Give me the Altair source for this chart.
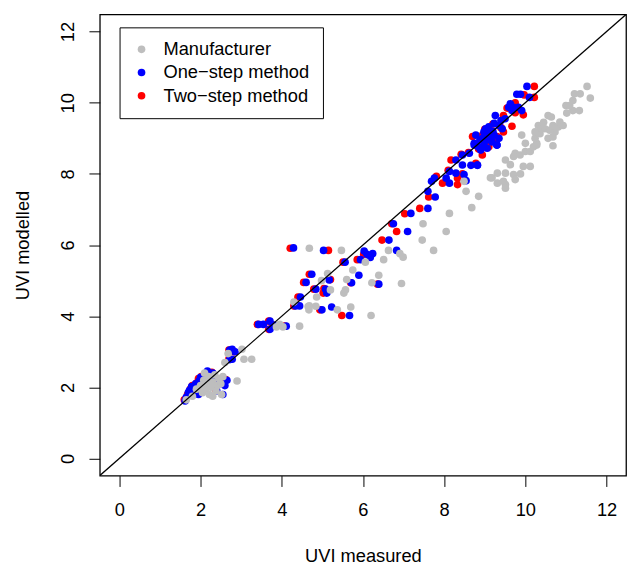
import altair as alt
import pandas as pd

# ---- data ----
series_names = ["Manufacturer", "One\u2212step method", "Two\u2212step method"]
series_colors = ["#BEBEBE", "#0000FF", "#FF0000"]

one_x = [1.62, 1.65, 1.70, 1.73, 1.78, 1.82, 1.88, 1.92, 1.96, 2.00, 2.05, 2.10, 2.12, 2.17, 2.20,
         2.25, 2.30, 1.85, 1.95, 2.35, 2.40, 2.65, 2.60, 2.78, 2.72, 2.78, 2.72, 2.85, 2.55,
         3.43, 3.55, 3.71, 3.71, 3.80, 4.11,
         4.29, 5.03, 4.34, 4.44, 4.46, 4.60, 4.74, 4.84, 4.99, 5.08, 5.11, 5.17, 5.23, 5.56, 5.67,
         5.72, 5.90, 5.94, 6.10, 6.18, 6.24, 6.39, 6.03, 6.64, 6.75, 6.83, 7.10, 7.18, 7.60, 7.78,
         7.60, 7.69, 7.76,
         8.74, 8.90, 9.30, 8.45, 8.62, 8.29, 8.45, 8.66, 8.82, 8.13, 8.29, 8.49, 8.05, 8.13, 8.54,
         9.23, 9.35, 9.43, 9.10, 9.02, 8.98, 9.10, 9.23, 9.35, 9.18, 9.30, 9.06, 8.98, 8.78, 8.74,
         8.82, 9.26, 9.63, 9.59, 9.67, 9.71, 9.83, 9.91, 9.79, 9.88, 10.04, 10.10, 9.50, 9.40,
         8.88, 9.15, 8.95, 9.05, 9.20, 8.85]
one_y = [1.62, 1.72, 1.85, 1.92, 2.02, 1.98, 2.10, 2.05, 2.18, 2.28, 2.22, 1.98, 2.35, 2.46, 2.30,
         2.15, 2.40, 1.85, 1.80, 2.25, 1.90, 2.20, 2.05, 2.79, 2.78, 3.07, 3.05, 3.00, 1.80,
         3.77, 3.77, 3.86, 3.63, 3.75, 3.72,
         5.92, 5.85, 4.29, 4.29, 4.54, 4.95, 5.18, 4.76, 4.18, 4.76, 4.65, 5.02, 4.26, 5.52, 4.02,
         4.94, 5.15, 5.59, 5.74, 5.65, 5.76, 4.90, 5.83, 6.14, 6.60, 5.85, 6.38, 6.89, 7.03, 7.35,
         7.51, 7.79, 7.88,
         8.86, 8.67, 8.81, 8.53, 8.58, 8.39, 8.25, 8.24, 8.24, 8.07, 8.02, 7.98, 7.88, 7.74, 7.81,
         9.42, 9.36, 9.27, 9.32, 9.27, 9.18, 9.13, 9.09, 9.00, 8.90, 8.81, 8.72, 8.81, 9.09, 8.81,
         8.25, 9.64, 9.97, 9.87, 9.78, 9.87, 9.87, 9.78, 10.24, 10.24, 10.46, 10.15, 9.55, 9.50,
         8.95, 9.05, 9.00, 8.95, 9.20, 8.75]

two_x = [1.60, 1.68, 1.75, 1.80, 1.90, 1.95, 2.02, 2.08, 2.15, 2.22, 2.28, 1.83, 2.33, 2.38, 2.62,
         2.70, 2.70, 2.83,
         3.40, 3.68, 3.68, 3.78, 4.07,
         4.21, 5.15, 4.40, 4.54, 4.68, 4.79, 4.94, 5.02, 5.20, 5.48, 5.51, 5.70, 5.86, 6.02, 6.47,
         6.71, 6.83, 7.03, 7.40, 7.62, 7.81, 6.36, 5.04, 4.30,
         7.96, 8.33, 8.33, 8.17, 8.42, 8.60, 8.85, 9.10, 9.06, 8.94, 9.46, 9.67, 9.46, 9.75, 9.95,
         9.97, 10.22, 10.22, 9.20, 9.00, 9.30, 8.95, 9.15, 9.40, 9.55, 9.75, 8.78, 8.70, 9.28,
         8.10, 8.45]
two_y = [1.65, 1.80, 1.95, 2.05, 2.12, 2.25, 2.30, 2.00, 2.40, 2.28, 2.42, 1.88, 2.22, 1.92, 2.22,
         3.05, 2.80, 3.00,
         3.77, 3.86, 3.63, 3.75, 3.72,
         5.91, 5.85, 4.54, 4.95, 5.18, 4.76, 4.18, 4.65, 5.03, 4.02, 5.52, 4.94, 5.59, 5.74, 6.14,
         6.60, 6.38, 6.88, 7.03, 7.35, 7.93, 4.90, 4.78, 4.29,
         7.74, 7.88, 7.70, 8.39, 8.55, 8.60, 8.70, 8.76, 8.86, 8.53, 9.18, 9.34, 9.64, 9.72, 9.66,
         10.22, 10.15, 10.46, 9.40, 9.25, 9.05, 9.10, 8.95, 9.30, 9.85, 10.00, 8.30, 9.05, 9.00,
         8.10, 8.00]

man_x = [1.65, 1.80, 1.90, 2.00, 2.05, 2.08, 2.12, 2.15, 2.20, 2.22, 2.25, 2.30, 2.35, 2.38, 2.42,
         2.45, 2.50, 2.52, 2.55, 2.10, 2.30, 2.90, 3.26, 3.02, 3.07, 2.60, 2.68,
         3.95, 3.87, 4.03, 4.44, 4.65, 4.68, 5.47, 4.68, 4.84, 4.67, 4.86, 5.13, 5.20, 5.37, 5.53,
         5.57, 5.60, 5.70, 6.06, 6.20, 6.22, 6.39, 6.51, 6.63, 6.91, 6.95, 6.99, 7.46, 7.48, 7.74,
         4.98, 5.75, 4.30,
         8.05, 8.13, 8.49, 8.54, 8.68, 8.85, 9.14, 9.18, 9.31, 9.31, 9.51, 9.51, 9.46, 9.51, 9.71,
         9.75, 9.51, 9.63, 9.95, 10.12, 9.71, 9.75, 9.87, 10.00, 10.12, 10.20, 10.28, 10.24, 10.00,
         9.91, 10.24, 10.36, 10.32, 10.40, 10.56, 10.68, 10.73, 10.48, 10.60, 10.68, 10.81, 10.85,
         10.93, 10.56, 10.64, 11.02, 11.17, 11.33, 11.00, 11.09, 11.17, 11.60, 11.21, 11.35, 11.52,
         10.28, 10.68, 9.88, 10.45]
man_y = [1.65, 1.75, 1.95, 2.05, 1.85, 2.20, 1.95, 2.10, 2.30, 1.80, 2.00, 2.15, 2.35, 1.90, 2.05,
         2.25, 2.10, 1.80, 2.30, 2.40, 1.75, 2.18, 2.79, 3.07, 2.79, 2.70, 2.95,
         3.77, 3.70, 3.70, 3.72, 4.27, 5.91, 5.85, 4.29, 4.28, 4.18, 4.54, 5.20, 4.74, 4.18, 4.65,
         4.74, 5.03, 4.26, 5.52, 4.02, 4.94, 5.15, 5.59, 5.85, 5.76, 4.92, 5.66, 6.14, 6.60, 5.85,
         5.00, 5.30, 4.40,
         6.38, 6.89, 7.79, 7.51, 7.05, 7.37, 7.89, 7.89, 8.02, 7.74, 7.70, 8.02, 7.79, 7.60, 7.98,
         7.84, 8.39, 8.26, 8.21, 8.21, 8.49, 8.58, 8.53, 8.63, 8.63, 8.76, 8.86, 9.00, 8.86,
         9.09, 9.18, 9.13, 9.36, 9.27, 9.00, 9.04, 9.18, 9.27, 9.23, 9.36, 9.32, 9.46,
         9.36, 9.64, 9.60, 9.71, 9.78, 9.78, 9.92, 9.92, 10.06, 10.13, 10.25, 10.25, 10.46,
         8.81, 8.79, 8.00, 9.45]

line_vals = [-0.48, 12.48]
x_ticks = [0, 2, 4, 6, 8, 10, 12]
y_ticks = [0, 2, 4, 6, 8, 10, 12]

# ---- tables ----
def frame(name, xs, ys):
    return pd.DataFrame({"x": xs, "y": ys, "series": name})

df_man = frame(series_names[0], man_x, man_y)
df_one = frame(series_names[1], one_x, one_y)
df_two = frame(series_names[2], two_x, two_y)
df_line = pd.DataFrame({"x": line_vals, "y": line_vals})

FONT = "Liberation Sans"
FS = 18.5
PT = 60
dom = [-0.48, 12.48]

xs = alt.Scale(domain=dom, nice=False, zero=False)
ys = alt.Scale(domain=dom, nice=False, zero=False)

x_axis = alt.Axis(values=x_ticks, title="UVI measured", grid=False, domain=False,
                  tickSize=11, tickColor="black", tickWidth=1, labelPadding=14,
                  labelFontSize=FS, labelFont=FONT, labelColor="black",
                  titleFontSize=FS, titleFont=FONT, titleFontWeight="normal",
                  titleColor="black", titleY=87, titleBaseline="alphabetic")
y_axis = alt.Axis(values=y_ticks, title="UVI modelled", grid=False, domain=False,
                  tickSize=11, tickColor="black", tickWidth=1, labelPadding=15.5,
                  labelAngle=270, labelAlign="center", labelBaseline="alphabetic",
                  labelFontSize=FS, labelFont=FONT, labelColor="black",
                  titleFontSize=FS, titleFont=FONT, titleFontWeight="normal",
                  titleColor="black", titleAngle=270, titleX=-72.5, titleY=233.5,
                  titleAlign="center", titleBaseline="alphabetic")

color = alt.Color("series:N",
                  scale=alt.Scale(domain=series_names, range=series_colors),
                  legend=alt.Legend(title=None, orient="none", legendX=20, legendY=13,
                                    strokeColor="black", fillColor="white", padding=13,
                                    labelFontSize=FS, labelFont=FONT, labelColor="black",
                                    symbolType="circle", symbolSize=PT, symbolStrokeWidth=0,
                                    labelOffset=13, rowPadding=4.5, cornerRadius=0,
                                    labelExpr="datum.label + '\u00a0\u00a0\u00a0\u00a0'"))

def pts(d):
    return alt.Chart(d).mark_circle(size=PT, opacity=1).encode(
        x=alt.X("x:Q", scale=xs, axis=x_axis),
        y=alt.Y("y:Q", scale=ys, axis=y_axis),
        color=color,
    )

line = alt.Chart(df_line).mark_line(color="black", strokeWidth=1.3, clip=True).encode(
    x=alt.X("x:Q", scale=xs, axis=x_axis), y=alt.Y("y:Q", scale=ys, axis=y_axis)
)

chart = alt.layer(pts(df_two), pts(df_one), pts(df_man), line).properties(
    width=533, height=467,
    autosize=alt.AutoSizeParams(type="none"),
    padding={"left": 93, "top": 3, "right": 4, "bottom": 90},
).configure(font=FONT).configure_view(stroke="black", strokeWidth=1.3)

chart.save("out.html", embed_options={"renderer": "svg", "actions": False})
